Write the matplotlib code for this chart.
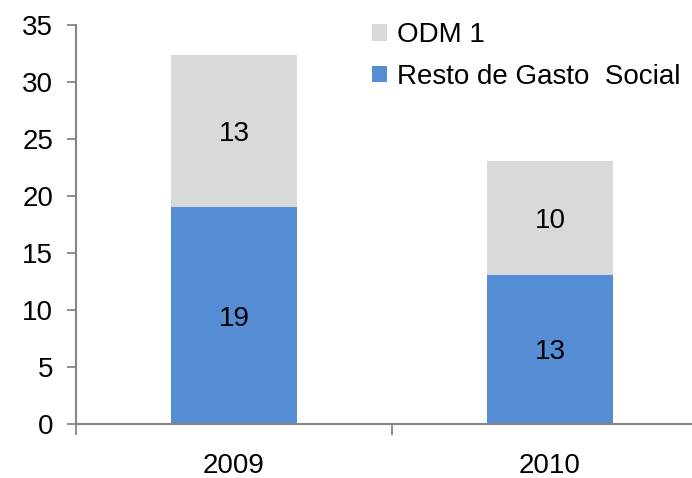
import matplotlib
matplotlib.use('Agg')
import matplotlib.pyplot as plt
import numpy as np

# data
years = ['2009', '2010']
resto_social = [19.0, 13.1]
odm1 = [13.4, 10.0]
resto_labels = ['19', '13']
odm1_labels = ['13', '10']

plt.rcParams['font.family'] = ['Liberation Sans', 'DejaVu Sans']

blue = '#558ED5'
gray = '#D9D9D9'
axis_color = '#868686'

fig = plt.figure(figsize=(6.92, 4.78), dpi=100)
ax = fig.add_axes([76 / 692, 54 / 478, 632 / 692, 399 / 478])

x = np.arange(len(years))
b1 = ax.bar(x, resto_social, width=0.4, color=blue, label='Resto de Gasto  Social')
b2 = ax.bar(x, odm1, width=0.4, bottom=resto_social, color=gray, label='ODM 1')

# value labels in the middle of each segment
for i in range(len(years)):
    ax.text(x[i], resto_social[i] / 2, resto_labels[i], ha='center', va='center_baseline', fontsize=20)
    ax.text(x[i], resto_social[i] + odm1[i] / 2, odm1_labels[i], ha='center', va='center_baseline', fontsize=20)

ax.set_xlim(-0.5, 1.5)
ax.set_ylim(0, 35)
ax.set_yticks(range(0, 36, 5))
ax.set_xticks(x)
ax.set_xticklabels(years)
ax.set_xticks([-0.5, 0.5, 1.5], minor=True)

for side in ['top', 'right']:
    ax.spines[side].set_visible(False)
for side in ['left', 'bottom']:
    ax.spines[side].set_color(axis_color)
    ax.spines[side].set_linewidth(1.5)

ax.tick_params(axis='y', length=6.5, width=1.3, color=axis_color, labelsize=20, pad=10)
ax.tick_params(axis='x', which='major', length=0, labelsize=20, pad=21)
ax.tick_params(axis='x', which='minor', length=8, width=1.3, color=axis_color)

ax.legend(handles=[b2, b1], loc='upper left', bbox_to_anchor=(364 / 692, 464 / 478),
          bbox_transform=fig.transFigure, frameon=False, fontsize=20,
          handlelength=0.52, handleheight=0.52, handletextpad=0.36, labelspacing=0.55,
          borderaxespad=0.0, borderpad=0.3)

fig.savefig('out.png', dpi=100)
